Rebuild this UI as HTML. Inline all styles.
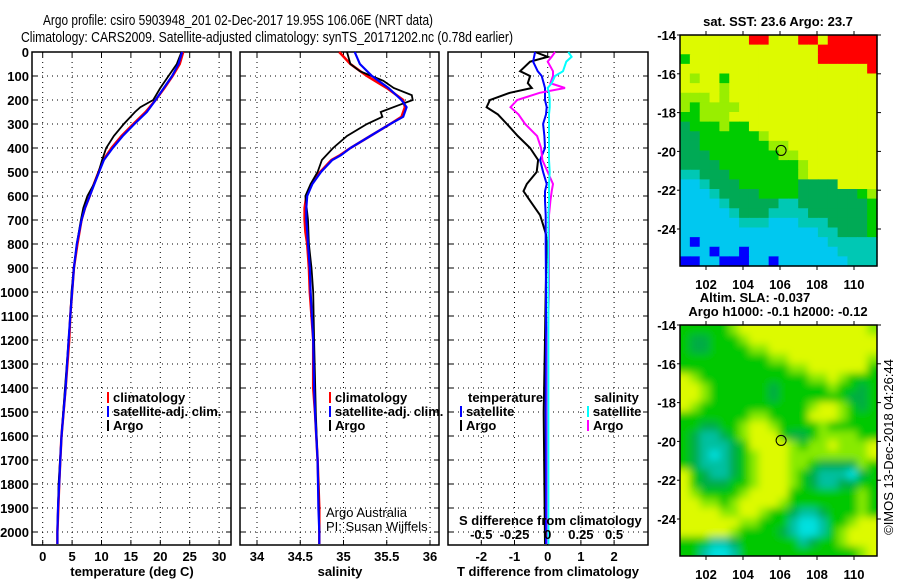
<!DOCTYPE html>
<html><head><meta charset="utf-8"><style>
body{margin:0;background:#fff;}
svg{display:block;font-family:"Liberation Sans",sans-serif;}
.b{font-weight:bold;font-size:13px;}
.n{font-weight:normal;font-size:13px;}
</style></head><body>
<svg id="c" width="900" height="580" viewBox="0 0 900 580">
<text x="43" y="25" font-size="15" textLength="390" lengthAdjust="spacingAndGlyphs">Argo profile: csiro 5903948_201 02-Dec-2017 19.95S 106.06E (NRT data)</text>
<text x="21" y="42" font-size="15" textLength="492" lengthAdjust="spacingAndGlyphs">Climatology: CARS2009. Satellite-adjusted climatology: synTS_20171202.nc (0.78d earlier)</text>
<defs>
<filter id="bl" x="0" y="0" width="1" height="1"><feGaussianBlur stdDeviation="4"/></filter>
<clipPath id="mc2"><rect x="680" y="325" width="197" height="231"/></clipPath>
</defs>
</svg>
<script>
// ---- data ----
const depthTicks=[0,100,200,300,400,500,600,700,800,900,1000,1100,1200,1300,1400,1500,1600,1700,1800,1900,2000];
const tempTicks=[0,5,10,15,20,25,30];
const salTicks=[34,34.5,35,35.5,36];
const tdiffTicks=[-2,-1,0,1,2];
const sdiffTicks=[-0.5,-0.25,0,0.25,0.5];
const climTDepth=[0,50,100,150,200,250,300,350,400,450,500,550,600,650,700,800,900,1000,1100,1200,1400,1600,1700,1800,1900,2000,2050];
const climTemp=[23.9,23.3,22.1,20.7,19.2,17.5,15.4,13.4,11.7,10.3,9.5,8.7,8.0,7.2,6.6,5.9,5.3,5.0,4.7,4.5,3.9,3.2,3.0,2.8,2.65,2.5,2.5];
const satTemp=[23.7,23.1,22.0,20.6,19.2,17.7,15.6,13.6,11.9,10.4,9.6,8.8,8.0,7.2,6.6,5.8,5.3,5.0,4.7,4.4,3.9,3.2,3.0,2.8,2.6,2.5,2.5];
const argoTDepth=[0,50,100,150,200,230,250,300,350,400,450,500,550,600,650,700,800,900,1000,1100,1200,1400,1600,1800,2000];
const argoTemp=[23.6,22.8,21.4,20.0,18.8,16.6,15.7,13.8,12.1,10.8,10.1,9.5,8.7,7.6,6.9,6.5,5.8,5.3,4.9,4.7,4.4,3.8,3.2,2.7,2.5];
const climSDepth=[0,50,100,150,200,230,270,300,350,400,430,450,500,550,600,650,700,750,800,900,1000,1200,1400,1500,1700,1900,2000,2050];
const climSal=[34.95,35.08,35.27,35.50,35.69,35.71,35.67,35.54,35.31,35.08,34.96,34.86,34.73,34.63,34.57,34.55,34.55,34.56,34.58,34.60,34.61,34.65,34.65,34.67,34.70,34.72,34.72,34.72];
const satSal=[35.13,35.19,35.33,35.52,35.67,35.73,35.69,35.54,35.31,35.08,34.97,34.87,34.74,34.64,34.58,34.57,34.57,34.58,34.59,34.61,34.62,34.65,34.66,34.67,34.70,34.71,34.72,34.72];
const argoSDepth=[0,50,80,120,150,180,200,220,250,270,300,350,400,450,500,550,600,700,800,900,1000,1200,1500,1800,2000];
const argoSal=[35.04,35.08,35.19,35.46,35.58,35.79,35.80,35.65,35.43,35.45,35.27,35.04,34.88,34.75,34.70,34.62,34.56,34.59,34.60,34.63,34.65,34.66,34.68,34.71,34.72];
const diffDepth=[0,20,40,80,100,130,150,170,200,230,260,300,350,400,450,500,550,580,620,680,720,760,800,1000,1200,1500,1800,2050];
const argoTDiff=[-0.38,0,-0.53,-0.83,-0.53,-0.6,-0.48,-1.14,-1.74,-1.84,-1.5,-1.23,-0.9,-0.53,-0.29,-0.33,-0.63,-0.73,-0.53,-0.23,-0.14,-0.05,-0.03,-0.06,-0.08,-0.12,-0.1,-0.08];
const satTDiff=[-0.38,-0.41,-0.44,-0.3,-0.18,-0.12,-0.08,-0.08,-0.08,-0.03,-0.05,-0.14,-0.1,-0.08,-0.23,-0.14,-0.03,-0.08,-0.08,-0.06,-0.06,-0.06,-0.06,-0.05,-0.05,-0.06,-0.05,-0.05];
const argoSDiff=[0.055,0.03,0.0,0.04,0.04,0.02,0.13,-0.06,-0.23,-0.28,-0.22,-0.17,-0.08,-0.05,-0.04,0.0,0.04,0.03,0.02,0.01,0.01,0.01,0.01,0.01,0.0,0.0,0.0,0.0];
const satSDiff=[0.155,0.18,0.14,0.115,0.055,0.03,0.0,0.01,0.015,0.015,0.01,0.01,0.01,0.01,0.01,0.015,0.01,0.01,0.01,0.005,0.005,0.005,0.005,0.005,0.005,0.005,0.005,0.005];
const lonTicks=[102,104,106,108,110];
const latTicks=[-14,-16,-18,-20,-22,-24];
const argoLon=106.06, argoLat=-19.95;
const sstGrid=[
"YYYYYYYRRYYYRRYRRRRR","YYYYYYYYYYYYYYRRRRRR","GYYYYYYYYYYYYYRRRRRR","YYYYYYYYYYYYYYYYYYYR",
"YLYYGYYYYYYYYYYYYYYY","YYYYLYYYYYYYYYYYYYYY","LLLYLYYYYYYYYYYYYYYY","LGLLLLYYYYYYYYYYYYYY",
"GGLLLYYYYYYYYYYYYYYY","DGGGLGGYYYYYYYYYYYYY","DDGGGGGGLYYYYYYYYYYY","DDGGGGGGGLLYYYYYYYYY",
"DDDGGGGGGGLLYYYYYYYY","DDDDGGGGGGGGLYYYYYYY","TTDDDGGGGGGGLYYYYYYY","CCTDDDGGGGGGDDDDYYYY",
"CCCTDDDDGGGGDDDDDDGL","CCCCTDDDDDTTDDDDDDDG","CCCCCTDDDTTTTDDDDDDG","CCCCCCTTTCCCTTTDDDDG",
"CCCCCCCCCCCCCCTTDDDG","CBCCCCCCCCCCCCCTTTTT","CCCBCCBCCCCCCCCCTTTT","BBCCBBBCCBCCCCCCCTTT"];
const slaGrid=[
"GGGGGLYYYYYYYYYYYYYL","GDDGGGLYYYYYYYYYYYYY","GDDGGGGLLYYYYYYYYYYY","GGGGGGGGGLLYYYYYYYYL",
"GGGGGGGGGGGLLYYYYYYG","YLGGGGGGGGGGGLLYLGGG","YYLGGGGGGDGGGGGLGGDG","YYLGGGGGGDGGGGGGGDDG",
"YLGGGGGGGGGGGLYYLGDG","GGGGGGGLLGGGGYYYLGGG","GGDDGGLYYLGGGGLGGGGG","GDTTDGLYYYGDDGLLLLGG",
"GDTTTDGYYYYLGLLYLLLY","GDTCTDGLYYYLLLLLLLLY","GDTTTDGLYYYLLGDDDDLG","YGDTTDGLYYYLGDTTTCDG",
"YGDDDGGLYYYLGDTTDDGG","YLGGGGLYYYYGGGGGGGLG","YYLLGLYYYYLGGGGGGGLG","YYYYLLYYLGGDTTDGGGLG",
"YYYYYYLLGGGTCCTGGLYY","YYYYYLGGGGDTCCTGLYYY","GGGTTDGGGGGGTDGGLYYY","GGTCCTGGGGGGGGGGGGLY"];
// ---- drawing ----
const S=document.getElementById('c');const NS='http://www.w3.org/2000/svg';
function mk(t,a,p){const e=document.createElementNS(NS,t);for(const k in a)e.setAttribute(k,a[k]);(p||S).appendChild(e);return e;}
const Y0=52,PY=0.24,YB=545;
const yD=d=>Y0+d*PY;
const panels=[{x0:32,x1:231,f:v=>42.7+v*5.88,ticks:tempTicks,name:'temperature'},
{x0:240,x1:439,f:v=>257+(v-34)*86.5,ticks:salTicks,name:'salinity'},
{x0:448,x1:648,f:v=>547.7+v*33.2,ticks:tdiffTicks,name:'difference'}];
const fS=v=>547.7+v*132.8;
panels.forEach((p,i)=>{
 const g=mk('g',{});
 
 
 depthTicks.forEach(d=>{mk('line',{x1:p.x0,x2:p.x1,y1:yD(d),y2:yD(d),stroke:'#000','stroke-dasharray':'1 4'},g);
  mk('line',{x1:p.x0,x2:p.x0+5,y1:yD(d),y2:yD(d),stroke:'#000'},g);mk('line',{x1:p.x1-5,x2:p.x1,y1:yD(d),y2:yD(d),stroke:'#000'},g);});
 p.ticks.forEach(v=>{const x=p.f(v);mk('line',{x1:x,x2:x,y1:Y0,y2:YB,stroke:'#000','stroke-dasharray':'1 4'},g);
  mk('line',{x1:x,x2:x,y1:Y0,y2:Y0+5,stroke:'#000'},g);mk('line',{x1:x,x2:x,y1:YB-5,y2:YB,stroke:'#000'},g);
  const t=mk('text',{x:x,y:561,'text-anchor':'middle',class:'b'},g);t.textContent=v;
  
  });
 mk('rect',{x:p.x0,y:Y0,width:p.x1-p.x0,height:YB-Y0,fill:'none',stroke:'#000','stroke-width':1.5},g);
});
depthTicks.forEach(d=>{const t=mk('text',{x:29,y:yD(d)+5,'text-anchor':'end',class:'b'});t.textContent=d;
 
 });
function line(ds,vs,f,col,w,name){const pts=ds.map((d,i)=>f(vs[i]).toFixed(1)+','+yD(d).toFixed(1)).join(' ');
 const e=mk('polyline',{points:pts,fill:'none',stroke:col,'stroke-width':w});
 
 }
line(climTDepth,climTemp,panels[0].f,'#f00',2.5,'temp-climatology-line');
line(argoTDepth,argoTemp,panels[0].f,'#000',1.8,'temp-argo-line');
line(climTDepth,satTemp,panels[0].f,'#00f',2.2,'temp-satellite-line');
line(climSDepth,climSal,panels[1].f,'#f00',2.5,'sal-climatology-line');
line(argoSDepth,argoSal,panels[1].f,'#000',1.8,'sal-argo-line');
line(climSDepth,satSal,panels[1].f,'#00f',2.2,'sal-satellite-line');
line(diffDepth,argoTDiff,panels[2].f,'#000',2,'tdiff-argo-line');
line(diffDepth,satTDiff,panels[2].f,'#00f',2,'tdiff-satellite-line');
line(diffDepth,argoSDiff,fS,'#f0f',2,'sdiff-argo-line');
line(diffDepth,satSDiff,fS,'#0ff',2,'sdiff-satellite-line');
function txt(x,y,s,cls,anchor,name,size){const t=mk('text',{x:x,y:y,class:cls,'text-anchor':anchor||'start'});if(size)t.setAttribute('font-size',size);t.textContent=s;
 
 return t;}
function leg(x,y,col,s,name){mk('rect',{x:x,y:y-10,width:2,height:11,fill:col});txt(x+6,y,s,'b','start',name);}
[[107,'temp'],[329,'sal']].forEach(([x,n])=>{leg(x,402,'#f00','climatology',n+'-legend-climatology');leg(x,416,'#00f','satellite-adj. clim.',n+'-legend-satellite');leg(x,430,'#000','Argo',n+'-legend-argo');});
txt(468,402,'temperature','b','start','legend-temperature-heading');
leg(460,416,'#00f','satellite','tdiff-legend-satellite');leg(460,430,'#000','Argo','tdiff-legend-argo');
txt(594,402,'salinity','b','start','legend-salinity-heading');
leg(587,416,'#0ff','satellite','sdiff-legend-satellite');leg(587,430,'#f0f','Argo','sdiff-legend-argo');
txt(326,517,'Argo Australia','n','start','credit-argo-australia');
txt(326,531,'PI: Susan Wijffels','n','start','credit-pi');
txt(459,525,'S difference from climatology','b','start','s-diff-axis-title');
sdiffTicks.forEach(v=>txt(fS(v),539,String(v),'b','middle','s-diff-tick-label'));
txt(132,576,'temperature (deg C)','b','middle','x-axis-title-temperature');
txt(340,576,'salinity','b','middle','x-axis-title-salinity');
txt(548,576,'T difference from climatology','b','middle','x-axis-title-tdiff');
// maps
const cols={R:'#ff0000',Y:'#ddfa00',L:'#99ee00',G:'#00cc00',D:'#00aa55',T:'#00c8b4',C:'#00c8f0',B:'#0000ff'};
const cols2={Y:'#ddfa00',L:'#88ea00',G:'#00c800',D:'#00ac44',T:'#00c0a0',C:'#00e0e0'};
const lonX=l=>706+(l-102)*18.5;
function map(y0,grid,pal,name,blur){
 const g=mk('g',{});
 
 
 const latY=l=>y0+(-14-l)*19.4;
 const inner=mk('g',blur?{filter:'url(#bl)'}:{},blur?mk('g',{'clip-path':'url(#mc2)'},g):g);
 const nr=grid.length,nc=grid[0].length,cw=197/nc,ch=231/nr;
 grid.forEach((row,r)=>{for(let c=0;c<nc;c++){mk('rect',{x:680+c*cw-(blur&&c==0?10:0),y:y0+r*ch-(blur&&r==0?10:0),width:cw+0.6+(blur&&(c==0||c==nc-1)?10:0),height:ch+0.6+(blur&&(r==0||r==nr-1)?10:0),fill:pal[row[c]]},inner);}});
 mk('rect',{x:680,y:y0,width:197,height:231,fill:'none',stroke:'#000','stroke-width':1.5},g);
 lonTicks.forEach(l=>{const x=lonX(l);mk('line',{x1:x,x2:x,y1:y0,y2:y0-4,stroke:'#000'},g);mk('line',{x1:x,x2:x,y1:y0+231,y2:y0+235,stroke:'#000'},g);
  const t=txt(x,y0+254,l,'b','middle','lon-tick-label');g.appendChild(t);});
 latTicks.forEach(l=>{const y=latY(l);mk('line',{x1:677,x2:680,y1:y,y2:y,stroke:'#000'},g);mk('line',{x1:877,x2:881,y1:y,y2:y,stroke:'#000'},g);
  const t=txt(676,y+5,l,'b','end','lat-tick-label');g.appendChild(t);});
 const cc=mk('circle',{cx:lonX(argoLon),cy:latY(argoLat),r:5,fill:'none',stroke:'#000'},g);
 
 
}
map(35,sstGrid,cols,'sst-map',false);
map(325,slaGrid,cols2,'sla-map',true);
txt(778,26,'sat. SST: 23.6 Argo: 23.7','b','middle','sst-map-title');
txt(755,302,'Altim. SLA: -0.037','b','middle','sla-map-title');
txt(778,316,'Argo h1000: -0.1 h2000: -0.12','b','middle','sla-map-subtitle');
const r=txt(0,0,'©IMOS 13-Dec-2018 04:26:44','n','middle','timestamp-credit');
r.setAttribute('transform','translate(893,447) rotate(-90)');
</script>
</body></html>
